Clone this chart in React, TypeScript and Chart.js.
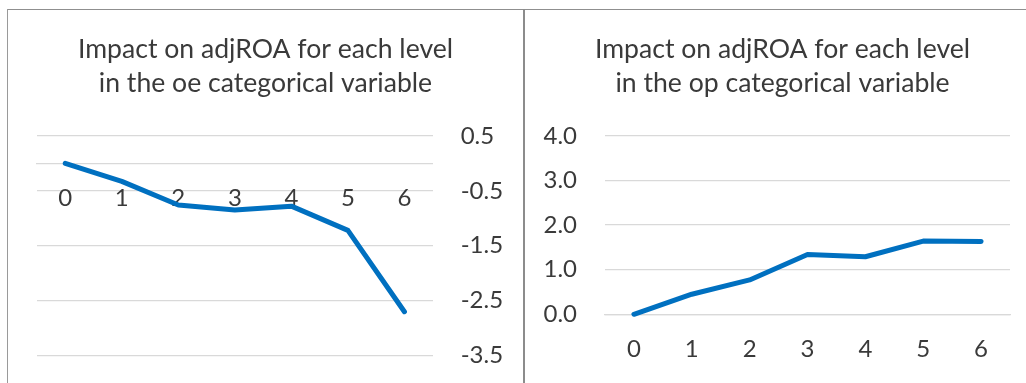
import React, { useEffect, useRef } from "react";
import { Chart, registerables } from "chart.js";

Chart.register(...registerables);

// Category levels shared by both panels
const LEVELS = ["0", "1", "2", "3", "4", "5", "6"];

// Impact on adjROA per level of the "oe" variable
const OE_IMPACT = [0, -0.33, -0.76, -0.85, -0.78, -1.22, -2.7];
const OE_TICKS = [0.5, -0.5, -1.5, -2.5, -3.5];
const OE_TITLE = ["Impact on adjROA for each level", "in the oe categorical variable"];

// Impact on adjROA per level of the "op" variable
const OP_IMPACT = [0, 0.45, 0.77, 1.34, 1.29, 1.64, 1.63];
const OP_TICKS = [0, 1, 2, 3, 4];
const OP_TITLE = ["Impact on adjROA for each level", "in the op categorical variable"];

const FONT = "Lato, 'Open Sans', sans-serif";
const TEXT = "#3a3a3a";
const GRID = "#d9d9d9";
const LINE = "#0070c0";

type PanelProps = {
  title: string[];
  values: number[];
  ticks: number[];
  yMin: number;
  yMax: number;
  yPosition: "left" | "right";
  yWidth: number;
  sideLeft: number;
  sideRight: number;
  bottom: number;
  xAtZero: boolean;
  xHeight: number;
};

function Panel(p: PanelProps) {
  const ref = useRef<HTMLCanvasElement | null>(null);

  useEffect(() => {
    if (!ref.current) return;
    const chart = new Chart(ref.current, {
      type: "line",
      data: {
        labels: LEVELS,
        datasets: [
          {
            data: p.values,
            borderColor: LINE,
            backgroundColor: LINE,
            borderWidth: 5,
            pointRadius: 0,
            pointHoverRadius: 0,
            borderCapStyle: "round",
            borderJoinStyle: "round",
            tension: 0,
            fill: false,
            clip: false,
          },
        ],
      },
      options: {
        animation: false,
        responsive: false,
        maintainAspectRatio: false,
        events: [],
        layout: { padding: { left: 0, right: 0, top: 0, bottom: p.bottom }, autoPadding: false },
        plugins: {
          legend: { display: false },
          tooltip: { enabled: false },
          title: {
            display: true,
            text: p.title,
            color: TEXT,
            font: { family: FONT, size: 26.6, weight: "400", lineHeight: 1.293 },
            padding: { top: 22, bottom: 35 },
          },
        },
        scales: {
          x: {
            type: "category",
            offset: true,
            position: p.xAtZero ? { y: 0 } : "bottom",
            z: 1,
            grid: { display: false, drawTicks: false },
            border: { display: true, color: GRID, width: 1.3 },
            ticks: {
              color: TEXT,
              padding: 21,
              font: { family: FONT, size: 24, weight: "400" },
              maxRotation: 0,
              autoSkip: false,
            },
            afterFit: (scale: any) => {
              scale.height = p.xHeight;
              // horizontal inset of the plot area, leaving the title centred on the panel
              scale.paddingLeft = p.sideLeft;
              scale.paddingRight = p.sideRight;
            },
          },
          y: {
            type: "linear",
            position: p.yPosition,
            min: p.yMin,
            max: p.yMax,
            grid: { color: GRID, lineWidth: 1.3, drawTicks: false },
            border: { display: false },
            ticks: {
              color: TEXT,
              padding: 28,
              font: { family: FONT, size: 24, weight: "400" },
              callback: (v: any) => Number(v).toFixed(1),
            },
            afterBuildTicks: (scale: any) => {
              scale.ticks = p.ticks.map((v) => ({ value: v }));
            },
            afterFit: (scale: any) => {
              scale.width = p.yWidth;
              scale.paddingTop = 0;
              scale.paddingBottom = 0;
            },
          },
        },
      },
    });
    return () => chart.destroy();
  }, []);

  return <canvas ref={ref} width={515} height={373} style={{ width: 515, height: 373, display: "block" }} />;
}

export default function App() {
  return (
    <div
      style={{
        position: "fixed",
        left: 0,
        top: 0,
        width: 1026,
        height: 383,
        overflow: "hidden",
        background: "#ffffff",
      }}
    >
      {/* panel frames */}
      <div style={{ position: "absolute", left: 7, top: 9, width: 1100, height: 1, background: "#8f8f8f" }} />
      <div style={{ position: "absolute", left: 7, top: 9, width: 1, height: 400, background: "#9a9a9a" }} />
      <div style={{ position: "absolute", left: 523, top: 9, width: 2, height: 400, background: "#8c8c8c" }} />

      <div style={{ position: "absolute", left: 8, top: 10 }}>
        <Panel
          title={OE_TITLE}
          values={OE_IMPACT}
          ticks={OE_TICKS}
          yMin={-3.5}
          yMax={0.5}
          yPosition="right"
          yWidth={90.3}
          sideLeft={29}
          sideRight={0}
          bottom={27.3}
          xAtZero={true}
          xHeight={0}
        />
      </div>
      <div style={{ position: "absolute", left: 525, top: 10 }}>
        <Panel
          title={OP_TITLE}
          values={OP_IMPACT}
          ticks={OP_TICKS}
          yMin={0}
          yMax={4}
          yPosition="left"
          yWidth={80}
          sideLeft={0}
          sideRight={30}
          bottom={0}
          xAtZero={false}
          xHeight={68.7}
        />
      </div>
    </div>
  );
}
